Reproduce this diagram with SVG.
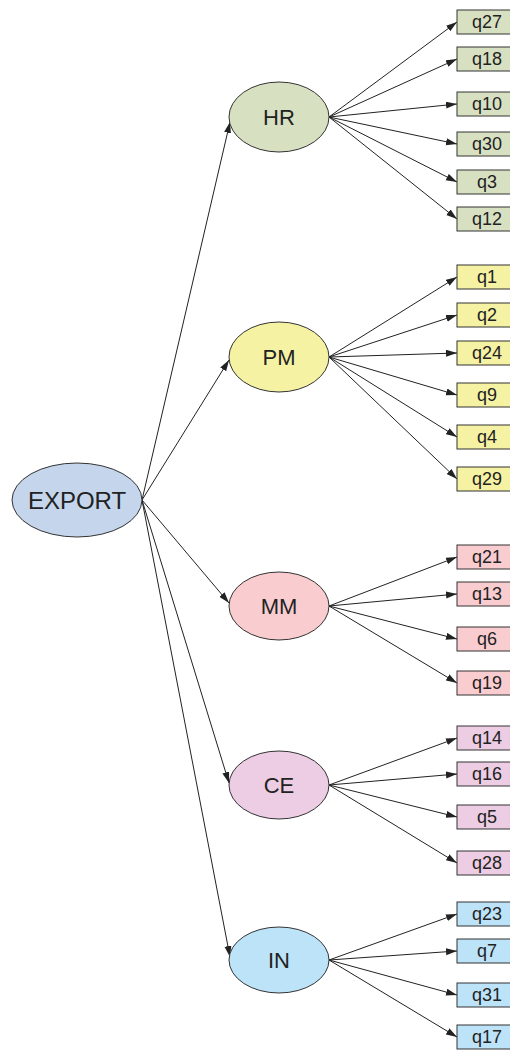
<svg xmlns="http://www.w3.org/2000/svg" width="510" height="1050" viewBox="0 0 510 1050">
<style>
  .n { stroke: #333; stroke-width: 1; }
  .t { font-family: "Liberation Sans", Arial, sans-serif; fill: #222; text-anchor: middle; dominant-baseline: central; }
  .lat { font-size: 22px; }
  .box { font-size: 18px; }
  .c line { stroke: #222; stroke-width: 1; marker-end: url(#ah); }
  .hr { fill: #d7e1c2; } .pm { fill: #f6f2a4; } .mm { fill: #f9cdd0; } .ce { fill: #eccde3; } .in { fill: #bde3f8; }
</style>
<defs>
  <marker id="ah" markerUnits="userSpaceOnUse" markerWidth="12" markerHeight="8" refX="11" refY="3.5" orient="auto">
    <path d="M0,0 L11,3.5 L0,7 z" fill="#222"/>
  </marker>
</defs>
<g class="c" id="connectors">
  <line x1="142" y1="500" x2="230" y2="122"/>
  <line x1="142" y1="500" x2="229" y2="360"/>
  <line x1="142" y1="500" x2="229" y2="603"/>
  <line x1="142" y1="500" x2="229" y2="783"/>
  <line x1="142" y1="500" x2="230" y2="957"/>
  <line x1="329" y1="117" x2="457" y2="22"/>
  <line x1="329" y1="117" x2="457" y2="59"/>
  <line x1="329" y1="117" x2="457" y2="104"/>
  <line x1="329" y1="117" x2="457" y2="144"/>
  <line x1="329" y1="117" x2="457" y2="182"/>
  <line x1="329" y1="117" x2="457" y2="219"/>
  <line x1="329" y1="357" x2="457" y2="277"/>
  <line x1="329" y1="357" x2="457" y2="315"/>
  <line x1="329" y1="357" x2="457" y2="353"/>
  <line x1="329" y1="357" x2="457" y2="395"/>
  <line x1="329" y1="357" x2="457" y2="437"/>
  <line x1="329" y1="357" x2="457" y2="479"/>
  <line x1="329" y1="606" x2="457" y2="557"/>
  <line x1="329" y1="606" x2="457" y2="594"/>
  <line x1="329" y1="606" x2="457" y2="639"/>
  <line x1="329" y1="606" x2="457" y2="683"/>
  <line x1="329" y1="785" x2="457" y2="738"/>
  <line x1="329" y1="785" x2="457" y2="774"/>
  <line x1="329" y1="785" x2="457" y2="817"/>
  <line x1="329" y1="785" x2="457" y2="863"/>
  <line x1="329" y1="960" x2="457" y2="914"/>
  <line x1="329" y1="960" x2="457" y2="951"/>
  <line x1="329" y1="960" x2="457" y2="995"/>
  <line x1="329" y1="960" x2="457" y2="1037"/>
</g>
<g id="EXPORT"><ellipse class="n" cx="77" cy="500" rx="65" ry="37" fill="#c5d6ec"/><text class="t" x="77" y="500" font-size="24">EXPORT</text></g>
<g id="HR"><ellipse class="n hr" cx="279" cy="117" rx="50" ry="35"/><text class="t lat" x="279" y="117">HR</text></g>
<g id="PM"><ellipse class="n pm" cx="279" cy="357" rx="50" ry="35"/><text class="t lat" x="279" y="357">PM</text></g>
<g id="MM"><ellipse class="n mm" cx="279" cy="606" rx="50" ry="34"/><text class="t lat" x="279" y="606">MM</text></g>
<g id="CE"><ellipse class="n ce" cx="279" cy="785" rx="50" ry="34"/><text class="t lat" x="279" y="785">CE</text></g>
<g id="IN"><ellipse class="n in" cx="279" cy="960" rx="50" ry="33"/><text class="t lat" x="279" y="960">IN</text></g>

<g id="q27"><rect class="n hr" x="457" y="10" width="60" height="24"/><text class="t box" x="487" y="22">q27</text></g>
<g id="q18"><rect class="n hr" x="457" y="47" width="60" height="24"/><text class="t box" x="487" y="59">q18</text></g>
<g id="q10"><rect class="n hr" x="457" y="92" width="60" height="24"/><text class="t box" x="487" y="104">q10</text></g>
<g id="q30"><rect class="n hr" x="457" y="132" width="60" height="24"/><text class="t box" x="487" y="144">q30</text></g>
<g id="q3"><rect class="n hr" x="457" y="170" width="60" height="24"/><text class="t box" x="487" y="182">q3</text></g>
<g id="q12"><rect class="n hr" x="457" y="207" width="60" height="24"/><text class="t box" x="487" y="219">q12</text></g>

<g id="q1"><rect class="n pm" x="457" y="265" width="60" height="24"/><text class="t box" x="487" y="277">q1</text></g>
<g id="q2"><rect class="n pm" x="457" y="303" width="60" height="24"/><text class="t box" x="487" y="315">q2</text></g>
<g id="q24"><rect class="n pm" x="457" y="341" width="60" height="24"/><text class="t box" x="487" y="353">q24</text></g>
<g id="q9"><rect class="n pm" x="457" y="383" width="60" height="24"/><text class="t box" x="487" y="395">q9</text></g>
<g id="q4"><rect class="n pm" x="457" y="425" width="60" height="24"/><text class="t box" x="487" y="437">q4</text></g>
<g id="q29"><rect class="n pm" x="457" y="467" width="60" height="24"/><text class="t box" x="487" y="479">q29</text></g>

<g id="q21"><rect class="n mm" x="457" y="545" width="60" height="24"/><text class="t box" x="487" y="557">q21</text></g>
<g id="q13"><rect class="n mm" x="457" y="582" width="60" height="24"/><text class="t box" x="487" y="594">q13</text></g>
<g id="q6"><rect class="n mm" x="457" y="627" width="60" height="24"/><text class="t box" x="487" y="639">q6</text></g>
<g id="q19"><rect class="n mm" x="457" y="671" width="60" height="24"/><text class="t box" x="487" y="683">q19</text></g>

<g id="q14"><rect class="n ce" x="457" y="726" width="60" height="24"/><text class="t box" x="487" y="738">q14</text></g>
<g id="q16"><rect class="n ce" x="457" y="762" width="60" height="24"/><text class="t box" x="487" y="774">q16</text></g>
<g id="q5"><rect class="n ce" x="457" y="805" width="60" height="24"/><text class="t box" x="487" y="817">q5</text></g>
<g id="q28"><rect class="n ce" x="457" y="851" width="60" height="24"/><text class="t box" x="487" y="863">q28</text></g>

<g id="q23"><rect class="n in" x="457" y="902" width="60" height="24"/><text class="t box" x="487" y="914">q23</text></g>
<g id="q7"><rect class="n in" x="457" y="939" width="60" height="24"/><text class="t box" x="487" y="951">q7</text></g>
<g id="q31"><rect class="n in" x="457" y="983" width="60" height="24"/><text class="t box" x="487" y="995">q31</text></g>
<g id="q17"><rect class="n in" x="457" y="1025" width="60" height="24"/><text class="t box" x="487" y="1037">q17</text></g>
</svg>
